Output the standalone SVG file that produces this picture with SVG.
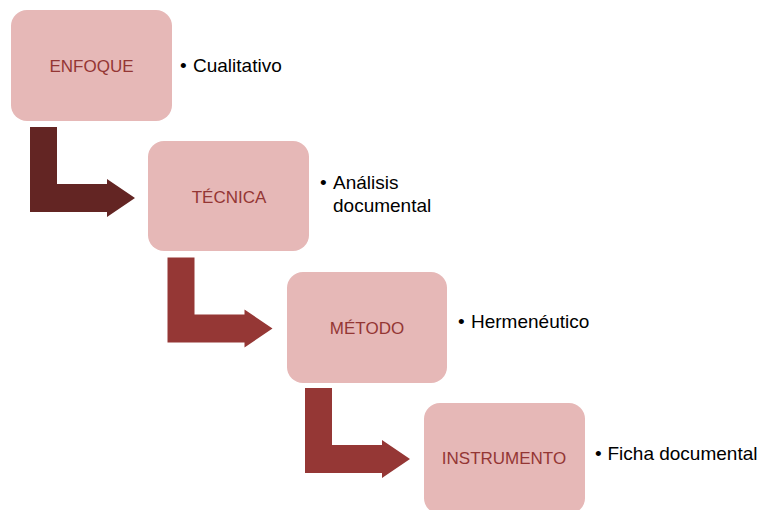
<svg xmlns="http://www.w3.org/2000/svg" width="760" height="510" viewBox="0 0 760 510">
<style>
.box{fill:#E6B8B7;}
.ttl{font-family:"Liberation Sans",Arial,sans-serif;font-size:17px;fill:#943634;text-anchor:middle;}
.bul{font-family:"Liberation Sans",Arial,sans-serif;font-size:19px;fill:#000;}
.a1{fill:#632523;}
.a2{fill:#953735;}
</style>
<rect width="760" height="510" fill="#fff"/>
<g id="connectors">
<path class="a1" d="M30,127 H57 V184 H107 V179 L135,198 L107,217 V212 H30 Z"/>
<path class="a2" d="M167.5,257.5 H194.5 V314.5 H244.5 V309.5 L272.5,328.5 L244.5,347.5 V342.5 H167.5 Z"/>
<path class="a2" d="M305,388 H332 V445 H382 V440 L410,459 L382,478 V473 H305 Z"/>
</g>
<g id="enfoque">
<rect class="box" x="11" y="10" width="161" height="111" rx="16"/>
<text class="ttl" x="91.5" y="72">ENFOQUE</text>
<text class="bul" x="180" y="72">•<tspan x="193">Cualitativo</tspan></text>
</g>
<g id="tecnica">
<rect class="box" x="148" y="141" width="161" height="110" rx="16"/>
<text class="ttl" x="229" y="202.5">TÉCNICA</text>
<text class="bul" x="320" y="189">•<tspan x="333">Análisis</tspan><tspan x="333" y="211.5">documental</tspan></text>
</g>
<g id="metodo">
<rect class="box" x="287" y="272" width="160" height="111" rx="16"/>
<text class="ttl" x="367" y="333.5">MÉTODO</text>
<text class="bul" x="458" y="327.5">•<tspan x="471">Hermenéutico</tspan></text>
</g>
<g id="instrumento">
<rect class="box" x="424" y="403" width="161" height="111" rx="16"/>
<text class="ttl" x="504" y="463.5">INSTRUMENTO</text>
<text class="bul" x="595" y="460">•<tspan x="607.5">Ficha documental</tspan></text>
</g>
</svg>
